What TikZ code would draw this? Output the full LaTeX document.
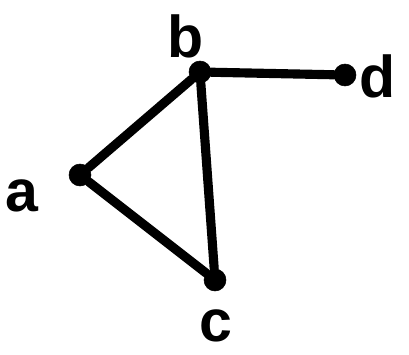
\documentclass[tikz,border=0pt]{standalone}
\usepackage{fontspec}
\setsansfont{Liberation Sans}
\usetikzlibrary{positioning}

\begin{document}
\begin{tikzpicture}[
  font=\sffamily,
  vtx/.style={circle, fill=black, draw=black, inner sep=0pt, minimum size=0.55cm},
  lbl/.style={font=\sffamily\bfseries\fontsize{42}{42}\selectfont, text=black, inner sep=0pt},
  edge/.style={draw=black, line width=6.5pt, line cap=round},
]
\useasboundingbox (0,0) rectangle (10.225,8.85);

% ---- vertices ----
\node[vtx] (a) at (2.0,4.475) {};
\node[vtx] (b) at (5.0,7.05) {};
\node[vtx] (c) at (5.375,1.85) {};
\node[vtx] (d) at (8.625,6.975) {};

% ---- labels ----
\node[lbl] (la) at (0.55,3.95) {a};
\node[lbl] (lb) at (4.65,7.95) {b};
\node[lbl] (lc) at (5.4,0.7) {c};
\node[lbl] (ld) at (9.45,6.95) {d};

% ---- edges ----
\draw[edge] (a) -- (b);
\draw[edge] (a) -- (c);
\draw[edge] (b) -- (c);
\draw[edge] (b) -- (d);
\end{tikzpicture}
\end{document}
